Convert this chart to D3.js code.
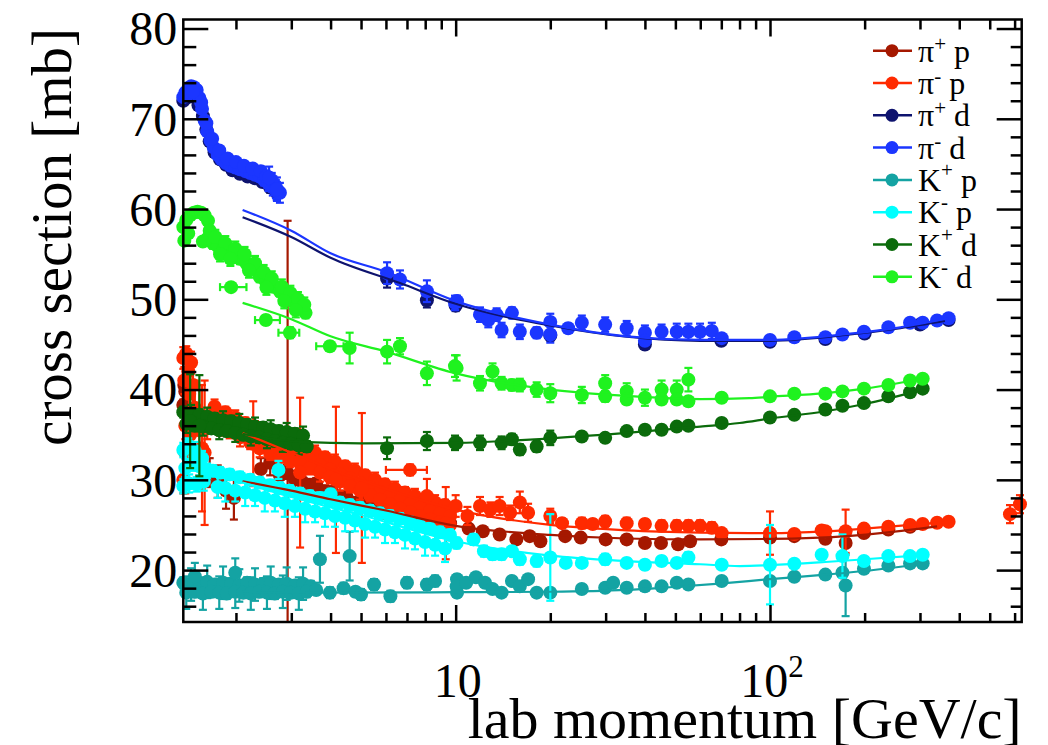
<!DOCTYPE html>
<html>
<head>
<meta charset="utf-8">
<script src="https://cdn.jsdelivr.net/npm/d3@7"></script>
<style>
  body { margin: 0; background: #fff; }
  svg { display: block; }
  text { font-family: "Liberation Serif", "Times New Roman", serif; fill: #000; }
</style>
</head>
<body>
<svg id="chart" width="1048" height="745"></svg>
<script>
// ---- axis ticks and labels ----
const xMajorTicks = [10, 100];
const xMinorTicks = [2, 3, 4, 5, 6, 7, 8, 9, 20, 30, 40, 50, 60, 70, 80, 90, 200, 300, 400, 500, 600];
const yMajorTicks = [20, 30, 40, 50, 60, 70, 80];
const yMinorTicks = [16, 18, 22, 24, 26, 28, 32, 34, 36, 38, 42, 44, 46, 48, 52, 54, 56, 58, 62, 64, 66, 68, 72, 74, 76, 78];
const xTickLabels = [["10", ""], ["10", "2"]];
const xTitle = "lab momentum [GeV/c]";
const yTitle = "cross section [mb]";

// ---- legend ----
const seriesNames = [["π", "+", " p"], ["π", "-", " p"], ["π", "+", " d"], ["π", "-", " d"],
                     ["K", "+", " p"], ["K", "-", " p"], ["K", "+", " d"], ["K", "-", " d"]];
const seriesColors = ["#a51800", "#ff2a00", "#0e136e", "#1b36ff", "#14a3a3", "#00ffff", "#0b6b0b", "#1ff21f"];

// ---- measurements: [p (GeV/c), sigma (mb), error (mb), optional pLow, pHigh] ----
const piPlusP = [
  [1.36,38.3,0.6],[1.38,39.8,0.8],[1.40,37.8,0.8],[1.37,40.5,1.0],
  [1.65,30.8,1.6],[1.75,29.8,1.8],[1.86,28.8,2.0],[1.97,28.0,2.4],
  [2.92,33.5,25.2],
  [2.40,31.2,1.2],[2.57,31.9,1.4],[2.76,30.5,1.0],[2.90,30.9,0.8],[3.08,30.0,1.0],[3.25,29.8,0.8],
  [3.44,29.3,0.8],[3.60,29.5,0.7],[3.84,28.6,0.8],[4.05,28.6,0.7],[4.28,28.0,0.8],[4.50,28.1,0.6],
  [4.78,27.4,0.7],[5.00,27.6,0.6],[5.34,26.9,0.7],[5.60,26.8,0.6],[5.96,26.4,0.7],[6.30,26.3,0.6],
  [6.65,25.9,0.6],[7.00,25.9,0.6],[7.42,25.5,0.5],[7.80,25.5,0.5],[8.29,25.1,0.5],[8.80,25.0,0.5],
  [9.25,24.8,0.5],[9.60,25.2,0.5],
  [11.0,24.6,0.5],[12.2,24.3,0.5],[13.8,23.95,0.5],[15.6,23.4,0.5],[17.2,23.76,0.5],[18.6,23.2,0.5],
  [22.3,23.76,0.4],[25.0,23.6,0.4],[30.0,23.4,0.4],[35.0,23.4,0.4],[40.0,23.0,0.4],[45.0,23.0,0.4],
  [51.0,22.85,0.4],[55.7,23.2,0.4],[70.0,23.4,0.3],
  [100,23.6,0.2],[119.5,23.76,0.2],[150,23.47,0.2],[174,23.0,0.3],[199,24.1,0.2],[238,24.5,0.2],[279,24.8,0.2]
];
const piMinusP = [
  [1.36,43.5,1.2],[1.37,41.0,1.5],[1.38,33.0,4.5],[1.39,44.0,0.8],[1.41,42.0,1.5],[1.42,39.5,2.0],
  [1.44,43.0,1.2],[1.46,40.5,2.5],[1.48,38.0,3.0],[1.50,36.5,1.5],[1.53,35.5,5.0],[1.56,33.5,7.0],
  [1.59,33.0,8.0],[1.62,36.0,1.5],[1.36,30.0,1.5],[1.38,36.0,1.5],[1.43,35.0,2.0],
  [1.71,38.1,0.8],[1.85,37.5,0.6],[1.99,36.9,0.8],[2.14,36.3,0.6],[2.30,35.7,0.8],[2.47,35.1,0.6],
  [2.66,34.7,0.8],[2.86,34.3,0.6],[3.08,34.0,0.8],[3.32,33.5,0.6],[3.57,33.0,0.8],[3.84,32.5,0.6],
  [4.13,32.0,0.8],[4.45,31.5,0.6],[4.78,31.0,0.8],[5.15,30.5,0.6],[5.54,30.0,0.8],[5.96,29.5,0.6],
  [6.41,29.0,0.8],[6.90,28.6,0.6],[7.42,28.2,0.8],[7.99,27.8,0.6],[8.60,27.5,0.8],[9.25,27.2,0.6],
  [1.78,36.7,0.6],[1.91,36.1,0.6],[2.06,35.5,0.6],[2.22,34.9,0.6],[2.38,34.3,0.6],[2.57,33.8,0.6],
  [2.76,33.4,0.6],[2.97,33.05,0.6],[3.20,32.65,0.6],[3.44,32.15,0.6],[3.70,31.65,0.6],[3.98,31.15,0.6],
  [4.28,30.65,0.6],[4.61,30.15,0.6],[4.96,29.65,0.6],[5.34,29.15,0.6],[5.74,28.65,0.6],[6.18,28.15,0.6],
  [6.65,27.7,0.6],[7.16,27.3,0.6],[7.70,26.9,0.6],[8.29,26.55,0.6],[8.91,26.25,0.6],[9.59,25.95,0.6],
  [1.78,35.9,1.0],[1.91,35.3,0.7],[2.06,34.7,1.0],[2.22,34.1,0.7],[2.38,33.5,1.0],[2.57,32.9,0.7],
  [2.76,32.5,1.0],[2.97,32.1,0.7],[3.20,31.8,1.0],[3.44,31.3,0.7],[3.70,30.8,1.0],[3.98,30.3,0.7],
  [4.28,29.8,1.0],[4.61,29.3,0.7],[4.96,28.8,1.0],[5.34,28.3,0.7],[5.74,27.8,1.0],[6.18,27.3,0.7],
  [6.65,26.8,1.0],[7.16,26.4,0.7],[7.70,26.0,1.0],[8.29,25.6,0.7],[8.91,25.3,1.0],[9.59,25.0,0.7],
  [2.27,34.0,4.7],[3.20,30.8,8.3],[4.16,30.0,8.1],[5.03,29.1,8.3],[7.16,31.1,0.6,6.0,8.1],[8.10,28.2,1.9],[9.30,25.2,4.0],
  [10.0,27.1,1.2],[10.9,26.0,1.0],[11.95,27.1,1.0],[12.9,26.7,0.8],[13.8,27.1,1.0],[14.9,26.35,0.8],
  [16.0,27.5,1.2],[17.0,26.35,1.0],[20.0,26.0,0.8],[21.8,25.2,0.5],[25.2,25.2,0.6],[27.3,25.1,0.5],
  [29.9,25.4,0.6],[35.0,25.2,0.6],[40.0,25.1,0.5],[45.2,24.9,0.6],[50.5,24.9,0.6],[55.0,24.9,0.6],
  [59.9,24.9,0.6],[65.3,24.7,0.6],[70.2,24.1,0.3],
  [100,24.1,2.4],[119.5,24.0,0.3],[146,24.4,0.3],[150,24.3,0.3],[174,24.3,2.4],[199,24.6,0.3],
  [238,24.8,0.3],[279,25.0,0.2],[306,25.1,0.2],[340,25.25,0.2],[370,25.35,0.2],
  [580,26.2,1.0],[624,27.3,1.0]
];
const piPlusD = [
  [1.36,72.0,0.4],[1.39,72.3,0.4],[1.43,72.6,0.4],[1.48,72.4,0.4],[1.52,71.5,0.4],[1.57,70.3,0.4],
  [1.61,68.8,0.4],[1.65,67.5,0.4],[1.71,66.3,0.4],[1.78,65.5,0.4],[1.86,64.9,0.4],[1.95,64.3,0.4],
  [2.06,63.9,0.4],[2.18,63.6,0.4],[2.30,63.4,0.4],[2.43,63.0,0.5],[2.57,62.4,0.6],[2.70,61.8,0.8],
  [6.05,52.3,1.0],[8.10,49.9,0.8],[10.0,49.3,0.6],[20.0,46.0,0.6],[40.0,45.0,0.5],[70.0,45.4,0.3],
  [100,45.3,0.2],[150,45.6,0.2],[200,46.2,0.2],[300,47.2,0.2],[370,47.7,0.2]
];
const piMinusD = [
  [1.36,72.4,0.4],[1.38,72.9,0.4],[1.41,73.3,0.4],[1.44,73.6,0.4],[1.47,73.5,0.4],[1.50,73.2,0.4],
  [1.53,72.3,0.4],[1.56,71.1,0.4],[1.59,69.8,0.4],[1.62,68.6,0.4],[1.66,67.6,0.4],[1.70,66.8,0.4],
  [1.75,66.0,0.4],[1.80,65.5,0.4],[1.86,65.1,0.4],[1.92,64.8,0.4],[1.99,64.6,0.4],[2.06,64.4,0.4],
  [2.14,64.2,0.4],[2.22,64.0,0.4],[2.30,63.8,0.4],[2.38,63.6,0.5],[2.46,63.2,0.6],[2.54,62.8,0.8],
  [2.62,62.4,0.9],[2.70,62.0,1.0],[2.76,61.8,1.1],
  [1.40,72.6,0.4],[1.46,73.0,0.4],[1.55,71.8,0.4],[1.61,69.5,0.4],[1.68,67.8,0.4],[1.77,66.5,0.4],
  [1.88,65.6,0.4],[2.00,65.2,0.4],[2.12,64.8,0.4],[2.26,64.5,0.4],[2.40,64.2,0.5],[2.50,63.6,0.6],
  [2.60,63.2,0.8],[2.68,62.2,1.0],[2.55,63.5,1.2],[2.70,62.2,1.3],
  [6.05,52.9,1.2],[6.65,52.2,1.0],[8.10,50.9,1.2],[9.95,49.6,0.8],
  [10.1,49.8,0.6],[11.95,48.3,0.8],[12.7,47.7,0.8],[13.5,48.3,0.7],[14.0,46.6,0.8],[15.1,48.5,0.6],
  [16.0,46.4,0.8],[18.1,46.3,0.6],[20.0,47.5,0.9],[20.0,46.1,0.9],[22.8,46.8,0.5],[25.2,47.4,0.8],
  [29.9,47.2,0.8],[35.0,46.8,0.8],[40.0,46.3,0.8],[40.0,45.4,0.4],[45.2,46.4,0.8],[50.5,46.4,0.9],
  [55.0,46.4,0.9],[59.9,46.4,0.9],[65.3,46.5,0.9],[70.2,45.7,0.3],
  [100,45.5,0.2],[119.5,45.8,0.2],[150,45.8,0.2],[170,46.1,0.2],[199,46.4,0.2],[238,46.9,0.2],
  [279,47.4,0.2],[306,47.4,0.2],[340,47.65,0.2],[370,47.9,0.2]
];
const kPlusP = [
  [1.36,18.6,0.6],[1.44,18.4,1.8],[1.53,18.5,0.6],[1.62,18.7,1.8],[1.71,18.4,0.6],[1.82,18.6,1.8],
  [1.93,18.5,0.6],[2.05,18.3,1.8],[2.17,18.6,0.6],[2.30,18.4,1.8],[2.44,18.5,0.6],[2.58,18.6,1.8],
  [2.74,18.4,0.6],[2.90,18.5,1.8],[3.08,18.3,0.6],[3.27,18.5,1.8],[3.46,18.2,0.6],
  [1.39,17.5,1.8],[1.48,17.6,0.6],[1.57,17.4,1.8],[1.67,17.6,0.6],[1.77,17.5,1.8],[1.87,17.4,0.6],
  [1.99,17.6,1.8],[2.11,17.5,0.6],[2.23,17.4,1.8],[2.37,17.6,0.6],[2.51,17.5,1.8],[2.66,17.4,0.6],
  [2.82,17.6,1.8],[2.99,17.5,0.6],[3.17,17.4,1.8],[3.36,17.6,0.6],
  [1.48,19.3,1.5],[1.99,19.7,1.6],[3.70,21.2,2.6],[4.60,21.55,2.7],[3.60,17.8,0.5],[3.98,17.5,0.6],
  [4.40,18.0,0.6],[4.80,17.6,0.5],[5.00,17.3,0.6],[5.50,18.4,0.6],[6.20,17.1,0.6],[7.00,18.6,0.6],
  [8.10,18.4,0.6],[8.60,18.8,0.6],[10.1,19.0,0.5],[10.1,17.5,0.5],
  [10.07,18.2,0.4],[10.8,18.6,0.4],[11.6,19.2,0.4],[12.4,18.6,0.4],[13.1,17.9,0.4],[14.0,17.5,0.4],
  [15.1,18.8,0.4],[16.0,18.2,0.4],[17.0,19.0,0.4],[18.1,17.5,0.4],[20.0,17.5,0.4],[25.2,17.9,0.4],
  [29.9,18.05,0.4],[31.7,18.6,0.4],[35.0,18.05,0.4],[40.0,18.2,0.4],[45.2,18.2,0.4],[50.5,18.6,0.4],
  [55.0,18.4,0.4],[70.2,18.8,0.3],
  [100,18.8,0.3],[119.5,19.26,0.2],[150,19.5,0.2],[170,19.7,0.2],[174,18.3,3.4],[199,20.15,0.2],
  [238,20.5,0.2],[279,20.74,0.2],[306,20.74,0.2]
];
const kMinusP = [
  [1.36,33.3,0.8],[1.36,29.3,0.8],[1.38,31.3,1.0],[1.41,33.8,0.8],[1.42,29.6,1.0],[1.45,31.8,0.8],
  [1.48,33.2,1.0],[1.50,29.5,0.8],[1.53,31.5,1.0],[1.56,32.4,0.8],[1.58,29.8,1.0],[1.62,31.0,0.8],
  [1.69,31.0,0.6],[1.78,30.8,0.6],[1.91,30.6,0.6],[2.06,30.3,0.6],[2.22,30.0,0.6],[2.38,29.7,0.6],
  [2.57,29.4,0.6],[2.76,29.1,0.6],[2.97,28.8,0.6],[3.20,28.5,0.6],[3.44,28.2,0.6],[3.70,28.0,0.6],
  [3.98,27.7,0.6],[4.28,27.5,0.6],[4.61,27.2,0.6],[4.96,26.9,0.6],[5.34,26.6,0.6],[5.74,26.3,0.6],
  [6.18,26.0,0.6],[6.65,25.7,0.6],[7.16,25.3,0.6],[7.70,24.9,0.6],[8.29,24.6,0.6],[8.91,24.2,0.6],
  [9.59,23.9,0.6],
  [1.75,29.2,1.2],[1.85,29.1,1.5],[1.99,28.8,1.2],[2.14,28.6,1.5],[2.30,28.3,1.2],[2.47,28.0,1.5],
  [2.66,27.7,1.2],[2.86,27.4,1.5],[3.08,27.1,1.2],[3.32,26.8,1.5],[3.57,26.5,1.2],[3.84,26.3,1.5],
  [4.13,26.0,1.2],[4.45,25.8,1.5],[4.78,25.5,1.2],[5.15,25.1,1.5],[5.54,24.8,1.2],[5.96,24.5,1.5],
  [6.41,24.2,1.2],[6.90,23.9,1.5],[7.42,23.5,1.2],[7.99,23.1,1.5],[8.60,22.8,1.2],[9.25,22.4,1.5],
  [2.73,31.1,1.0],[4.00,28.4,0.6],
  [10.07,23.0,0.6],[11.4,23.4,0.6],[12.3,22.1,0.6],[13.1,21.75,0.6],[14.0,21.75,0.6],[15.1,22.1,0.5],
  [16.0,21.2,0.6],[18.1,21.0,0.6],[20.0,21.4,4.8],[22.4,20.8,0.5],[25.2,20.8,0.5],[29.9,21.2,0.6],
  [35.0,20.8,0.5],[40.0,20.6,0.5],[45.2,21.0,0.5],[50.5,20.8,0.5],[55.0,21.4,0.6],[70.2,20.6,0.3],
  [100,20.6,4.4],[119.5,20.7,0.2],[146,21.7,0.3],[170,21.55,2.4],[199,21.0,0.2],[238,21.55,0.2],
  [279,21.55,0.2],[306,21.7,0.2]
];
const kPlusD = [
  [1.36,37.5,0.6],[1.44,37.3,1.0],[1.53,37.2,0.6],[1.62,37.0,1.0],[1.71,36.8,0.6],[1.82,36.6,1.0],
  [1.93,36.5,0.6],[2.05,36.3,1.0],[2.17,36.1,0.6],[2.30,35.9,1.0],[2.44,35.8,0.6],[2.58,35.6,1.0],
  [2.74,35.4,0.6],[2.90,35.3,1.0],[3.08,35.1,0.6],[3.27,34.9,1.0],
  [1.39,36.2,1.0],[1.48,36.0,0.6],[1.57,35.9,1.0],[1.67,35.7,0.6],[1.77,35.5,1.0],[1.87,35.4,0.6],
  [1.99,35.2,1.0],[2.11,35.0,0.6],[2.23,34.8,1.0],[2.37,34.7,0.6],[2.51,34.5,1.0],[2.66,34.3,0.6],
  [2.82,34.1,1.0],[2.99,34.0,0.6],[3.17,33.8,1.0],[3.36,33.7,0.6],
  [1.43,36.5,5.2],[1.53,36.0,5.6],
  [6.05,33.5,1.2],[8.10,34.3,1.0],[9.95,34.1,0.8],
  [10.07,34.1,0.5],[11.95,34.1,0.8],[14.0,34.1,0.7],[15.1,34.5,0.6],[16.0,33.35,0.6],[18.1,33.7,0.6],
  [20.0,34.65,0.8],[25.2,34.8,0.3],[29.9,34.65,0.3],[35.0,35.4,0.3],[40.0,35.55,0.3],[45.2,35.55,0.3],
  [50.5,35.9,0.3],[55.0,36.0,0.3],[70.2,36.3,0.3],
  [100,36.9,0.2],[119.5,37.2,0.2],[150,37.8,0.2],[170,38.2,0.2],[199,38.5,0.2],[238,39.25,0.2],
  [279,39.7,0.2],[306,40.1,0.2]
];
const kMinusD = [
  [1.36,58.0,0.5],[1.37,56.5,0.5],[1.39,58.8,0.5],[1.41,57.3,0.5],[1.43,59.3,0.5],[1.47,59.6,0.5],
  [1.51,59.7,0.5],[1.55,59.6,0.5],[1.59,59.3,0.5],[1.63,58.7,0.5],[1.65,57.6,0.5],[1.62,56.7,0.5],
  [1.57,56.4,0.4],
  [1.69,56.2,0.6],[1.75,55.9,0.6],[1.82,55.5,0.6],[1.88,55.25,0.6],[1.96,54.9,0.6],[2.06,54.5,0.6],
  [2.16,54.0,0.6],[2.26,53.4,0.6],[2.38,52.5,0.6],[2.49,52.0,0.6],[2.63,51.4,0.6],[2.76,50.9,0.6],
  [2.90,50.3,0.6],[3.04,49.8,0.6],[3.20,49.2,0.6],[3.33,48.5,0.6],
  [1.72,56.9,0.8],[1.85,56.2,0.8],[1.99,55.6,0.8],[2.13,55.0,0.8],[2.30,54.0,0.8],[2.45,53.0,0.8],
  [2.60,52.3,0.8],[2.80,51.4,0.8],[2.98,50.7,0.8],[3.15,50.0,0.8],[3.30,49.4,0.8],
  [1.78,55.0,0.8],[1.92,54.5,0.8],[2.20,53.2,0.8],[2.50,51.3,0.8],[2.85,49.8,0.8],[3.10,48.8,0.8],
  [1.93,51.35,0.4,1.78,2.16],[2.49,47.7,0.5,2.30,2.76],[2.97,46.3,0.6,2.73,3.18],[3.98,44.8,0.5,3.60,4.40],
  [4.60,44.6,1.7],[6.05,44.2,1.3],[6.65,44.8,0.9],[8.10,41.8,1.3],[9.95,42.6,1.2],
  [10.07,42.4,1.4],[11.95,40.7,0.8],[13.1,42.0,0.9],[14.0,40.7,0.7],[15.1,40.5,0.6],[16.0,40.5,0.7],
  [18.1,40.0,0.8],[20.0,39.6,1.0],[25.2,39.4,0.9],[29.9,40.7,0.9],[29.9,39.25,0.6],[35.0,39.8,0.9],
  [35.0,38.9,0.5],[40.0,39.1,0.9],[45.2,40.0,1.0],[45.2,38.9,0.5],[50.5,40.0,1.0],[50.5,38.9,0.5],
  [55.0,41.1,1.3],[55.0,38.7,0.4],[70.2,39.1,0.3],
  [100,39.25,0.2],[119.5,39.55,0.2],[150,39.55,0.2],[170,39.8,0.2],[199,40.1,0.2],[238,40.5,0.2],
  [279,41.0,0.2],[306,41.2,0.2]
];

// ---- fitted curves: [p (GeV/c), sigma (mb)] ----
const piPlusPFit  = [[2.1,29.85],[3,28.8],[4,27.85],[6,26.6],[10,24.9],[20,23.9],[35,23.5],[60,23.4],[100,23.45],[180,23.8],[300,24.6],[340,24.85]];
const piMinusPFit = [[2.1,35.2],[3,33.0],[4,31.2],[6,29.0],[10,26.7],[20,25.0],[35,24.4],[60,24.15],[86,24.1],[100,24.1],[150,24.3],[200,24.6],[300,25.1],[370,25.35]];
const piPlusDFit  = [[2.1,59.1],[3,56.9],[4,54.6],[6.65,51.8],[10,49.5],[20,47.1],[35,45.85],[60,45.4],[100,45.4],[180,46.1],[260,46.8],[360,47.6]];
const piMinusDFit = [[2.1,59.9],[3,57.6],[4,55.1],[6.05,53.0],[10,49.8],[20,47.2],[35,45.9],[60,45.5],[100,45.5],[180,46.2],[260,46.9],[370,47.9]];
const kPlusPFit   = [[2.1,17.6],[3.3,17.5],[10,17.55],[20,17.6],[35,17.8],[48,18.1],[69,18.5],[100,19.0],[150,19.5],[200,19.9],[306,20.7]];
const kMinusPFit  = [[2.1,29.7],[3,28.1],[5,26.1],[10,23.2],[20,21.6],[35,21.0],[60,20.65],[80,20.45],[100,20.55],[150,20.9],[200,21.2],[306,21.66]];
const kPlusDFit   = [[2.1,35.1],[3.2,34.2],[5,34.05],[10,34.1],[20,34.6],[35,35.2],[60,35.9],[80,36.3],[100,36.8],[150,37.6],[200,38.4],[306,40.0]];
const kMinusDFit  = [[2.1,49.6],[3,47.8],[4,45.9],[6,44.2],[10,41.8],[20,40.0],[35,39.3],[60,38.95],[86,39.05],[100,39.2],[150,39.6],[200,40.1],[306,41.2]];

const seriesData = [piPlusP, piMinusP, piPlusD, piMinusD, kPlusP, kMinusP, kPlusD, kMinusD];
const seriesFits = [piPlusPFit, piMinusPFit, piPlusDFit, piMinusDFit, kPlusPFit, kMinusPFit, kPlusDFit, kMinusDFit];

// ---- frame geometry ----
const frameL = 183.3, frameR = 1021.7, frameT = 19.5, frameB = 622;

const svg = d3.select("#chart");
const x = d3.scaleLog().domain([1.36, 632]).range([frameL, frameR]);
const y = d3.scaleLinear().domain([14.25, 81]).range([frameB, frameT]);
const yc = y.copy().clamp(true);

const markerR = 7, capHalf = 4;

// ---- data points with error bars ----
const plot = svg.append("g").attr("class", "data");
seriesData.forEach((data, i) => {
  const col = seriesColors[i];
  const g = plot.append("g").attr("class", "series-" + i);
  const bars = g.append("g").attr("stroke", col).attr("stroke-width", 2.2).attr("fill", "none");
  data.forEach(d => {
    const [p, s, e, pLo, pHi] = d;
    const cx = x(p);
    const y1 = yc(s + e), y2 = yc(s - e);
    bars.append("line").attr("x1", cx).attr("x2", cx).attr("y1", y1).attr("y2", y2);
    if (s + e < y.domain()[1]) bars.append("line").attr("x1", cx - capHalf).attr("x2", cx + capHalf).attr("y1", y1).attr("y2", y1);
    if (s - e > y.domain()[0]) bars.append("line").attr("x1", cx - capHalf).attr("x2", cx + capHalf).attr("y1", y2).attr("y2", y2);
    if (pLo !== undefined) {
      const xa = x(pLo), xb = x(pHi), cy = y(s);
      bars.append("line").attr("x1", xa).attr("x2", xb).attr("y1", cy).attr("y2", cy);
      bars.append("line").attr("x1", xa).attr("x2", xa).attr("y1", cy - capHalf).attr("y2", cy + capHalf);
      bars.append("line").attr("x1", xb).attr("x2", xb).attr("y1", cy - capHalf).attr("y2", cy + capHalf);
    }
  });
  g.append("g").selectAll("circle").data(data).join("circle")
    .attr("cx", d => x(d[0])).attr("cy", d => y(d[1])).attr("r", markerR)
    .attr("fill", col);
});

// ---- fitted curves on top ----
const line = d3.line().x(d => x(d[0])).y(d => y(d[1])).curve(d3.curveMonotoneX);
svg.append("g").attr("class", "fits").selectAll("path").data(seriesFits).join("path")
  .attr("d", d => line(d))
  .attr("fill", "none")
  .attr("stroke", (d, i) => seriesColors[i])
  .attr("stroke-width", 2.2);

// ---- axes (ticks pointing inward) ----
function styleAxis(g) {
  g.select(".domain").remove();
  g.selectAll(".tick line").attr("stroke", "#000").attr("stroke-width", 2.5);
}
svg.append("g").attr("transform", `translate(0,${frameB})`)
  .call(d3.axisBottom(x).tickValues(xMinorTicks).tickSize(-9).tickFormat("")).call(styleAxis);
svg.append("g").attr("transform", `translate(0,${frameB})`)
  .call(d3.axisBottom(x).tickValues(xMajorTicks).tickSize(-17).tickFormat("")).call(styleAxis);
svg.append("g").attr("transform", `translate(0,${frameT})`)
  .call(d3.axisTop(x).tickValues(xMinorTicks).tickSize(-10).tickFormat("")).call(styleAxis);
svg.append("g").attr("transform", `translate(0,${frameT})`)
  .call(d3.axisTop(x).tickValues(xMajorTicks).tickSize(-17).tickFormat("")).call(styleAxis);
svg.append("g").attr("transform", `translate(${frameL},0)`)
  .call(d3.axisLeft(y).tickValues(yMinorTicks).tickSize(-13).tickFormat("")).call(styleAxis);
const yAxisG = svg.append("g").attr("transform", `translate(${frameL},0)`)
  .call(d3.axisLeft(y).tickValues(yMajorTicks).tickSize(-25).tickPadding(6).tickFormat(d3.format("d")))
  .call(styleAxis);
yAxisG.attr("font-family", null).attr("font-size", null);
yAxisG.selectAll(".tick text").attr("font-size", 48).attr("fill", "#000").attr("dy", "0.34em");
svg.append("g").attr("transform", `translate(${frameR},0)`)
  .call(d3.axisRight(y).tickValues(yMinorTicks).tickSize(-11).tickFormat("")).call(styleAxis);
svg.append("g").attr("transform", `translate(${frameR},0)`)
  .call(d3.axisRight(y).tickValues(yMajorTicks).tickSize(-25).tickFormat("")).call(styleAxis);

// frame
svg.append("rect").attr("x", frameL).attr("y", frameT).attr("width", frameR - frameL).attr("height", frameB - frameT)
  .attr("fill", "none").attr("stroke", "#000").attr("stroke-width", 2.5);

// x tick labels (powers of ten)
xMajorTicks.forEach((v, i) => {
  const t = svg.append("text").attr("x", x(v) + 2).attr("y", 697)
    .attr("text-anchor", "middle").attr("font-size", 48);
  t.append("tspan").text(xTickLabels[i][0]);
  if (xTickLabels[i][1]) t.append("tspan").attr("font-size", 31).attr("dy", -20).text(xTickLabels[i][1]);
});

// axis titles
svg.append("text").attr("x", frameR).attr("y", 738).attr("text-anchor", "end")
  .attr("font-size", 58).text(xTitle);
svg.append("text").attr("transform", "translate(71,28) rotate(-90)").attr("text-anchor", "end")
  .attr("font-size", 57).text(yTitle);

// ---- legend ----
const legend = svg.append("g").attr("class", "legend");
seriesNames.forEach((nm, i) => {
  const ly = 50.7 + i * 32.3;
  const col = seriesColors[i];
  legend.append("line").attr("x1", 873).attr("x2", 912).attr("y1", ly).attr("y2", ly)
    .attr("stroke", col).attr("stroke-width", 2.5);
  legend.append("circle").attr("cx", 892).attr("cy", ly).attr("r", 6.5).attr("fill", col);
  const t = legend.append("text").attr("x", 918).attr("y", ly + 11).attr("font-size", 32);
  t.append("tspan").text(nm[0]);
  const up = nm[0] === "K" ? 14 : 11;
  t.append("tspan").attr("font-size", 21).attr("dy", -up).text(nm[1]);
  t.append("tspan").attr("font-size", 32).attr("dy", up).text(nm[2]);
});
</script>
</body>
</html>
